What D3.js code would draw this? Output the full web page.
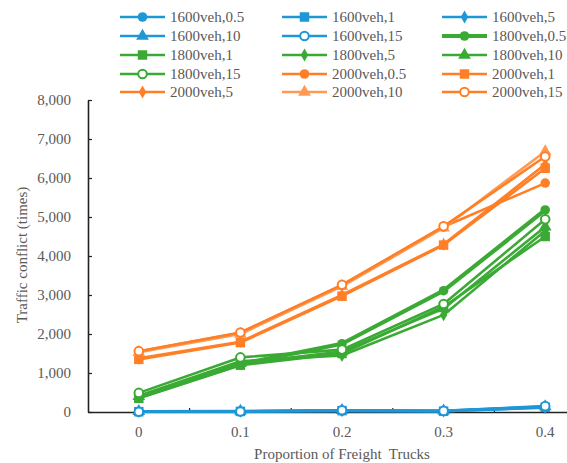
<!DOCTYPE html>
<html><head><meta charset="utf-8">
<script src="https://cdn.jsdelivr.net/npm/d3@7/dist/d3.min.js"></script>
<style>body{margin:0;background:#fff}svg{display:block}svg text{font-family:"Liberation Serif","Times New Roman","DejaVu Serif",serif;}</style>
</head><body><svg id="c" width="567" height="463"></svg>
<script>
const categories = ["0", "0.1", "0.2", "0.3", "0.4"];
const yTicks = [0, 1000, 2000, 3000, 4000, 5000, 6000, 7000, 8000];
const seriesNames = ["1600veh,0.5","1600veh,1","1600veh,5","1600veh,10","1600veh,15",
  "1800veh,0.5","1800veh,1","1800veh,5","1800veh,10","1800veh,15",
  "2000veh,0.5","2000veh,1","2000veh,5","2000veh,10","2000veh,15"];
const v1600_05 = [10, 20, 30, 25, 130];
const v1600_1  = [8, 15, 35, 20, 120];
const v1600_5  = [12, 18, 28, 22, 110];
const v1600_10 = [15, 25, 40, 30, 140];
const v1600_15 = [5, 12, 45, 28, 150];
const v1800_05 = [380, 1230, 1750, 3110, 5180];
const v1800_1  = [350, 1200, 1500, 2700, 4500];
const v1800_5  = [420, 1300, 1450, 2490, 4650];
const v1800_10 = [400, 1250, 1550, 2650, 4750];
const v1800_15 = [490, 1400, 1600, 2770, 4940];
const v2000_05 = [1550, 2030, 3250, 4750, 5870];
const v2000_1  = [1350, 1780, 2970, 4280, 6250];
const v2000_5  = [1380, 1800, 3000, 4300, 6350];
const v2000_10 = [1530, 2000, 3220, 4720, 6680];
const v2000_15 = [1560, 2040, 3260, 4760, 6550];
const seriesValues = [v1600_05,v1600_1,v1600_5,v1600_10,v1600_15,
  v1800_05,v1800_1,v1800_5,v1800_10,v1800_15,
  v2000_05,v2000_1,v2000_5,v2000_10,v2000_15];

(function(){
const blue = "#1f96d6", green = "#3aaa35", orange = "#ff7f27", lightOrange = "#ff9a55";
const markerKinds = ["circle","square","diamond","triangle","open"];
const series = seriesNames.map((n,i) => {
  const g = Math.floor(i/5);
  let color = [blue, green, orange][g];
  if (i === 13) color = lightOrange;
  return {name:n, values:seriesValues[i], color, marker: markerKinds[i%5], width: i===5 ? 4.2 : 2.6};
});

const svg = d3.select("#c");
const mLeft = 88, mBottom = 412, mTop = 100;
const x = d3.scaleBand().domain(categories).range([mLeft, mLeft + 5*101.6]);
const y = d3.scaleLinear().domain([0, 8000]).range([mBottom, mTop]);
const textColor = "#595959";
const fontFam = "'Liberation Serif','Times New Roman','DejaVu Serif',serif";

const yAxis = svg.append("g").attr("transform", `translate(${mLeft},0)`)
  .call(d3.axisLeft(y).tickValues(yTicks).tickFormat(d3.format(",")).tickSizeInner(-4).tickSizeOuter(0).tickPadding(17));
yAxis.select(".domain").attr("stroke", "#222").attr("stroke-width", 1.6);
yAxis.selectAll(".tick line").attr("stroke", "#222").attr("stroke-width", 1.2);
yAxis.selectAll("text").attr("fill", textColor).attr("font-family", fontFam).attr("font-size", 15);

const xAxis = svg.append("g").attr("transform", `translate(0,${mBottom})`)
  .call(d3.axisBottom(x).tickSize(0).tickPadding(14));
xAxis.select(".domain").attr("stroke", "#222").attr("stroke-width", 1.6);
xAxis.selectAll("text").attr("fill", textColor).attr("font-family", fontFam).attr("font-size", 15);
const bounds = categories.slice(1).map(c => x(c));
svg.append("g").selectAll("line").data(bounds).join("line")
  .attr("x1", d => d).attr("x2", d => d).attr("y1", mBottom).attr("y2", mBottom - 4)
  .attr("stroke", "#222").attr("stroke-width", 1.2);

svg.append("text").attr("x", 342).attr("y", 459).attr("text-anchor", "middle")
  .attr("fill", textColor).attr("font-family", fontFam).attr("font-size", 15)
  .style("white-space", "pre")
  .text("Proportion of Freight  Trucks");
svg.append("text").attr("transform", `translate(27,255) rotate(-90)`).attr("text-anchor", "middle")
  .attr("fill", textColor).attr("font-family", fontFam).attr("font-size", 15)
  .text("Traffic conflict (times)");

function drawMarker(g, kind, cx, cy, color) {
  if (kind === "circle") {
    g.append("circle").attr("cx", cx).attr("cy", cy).attr("r", 4.8).attr("fill", color);
  } else if (kind === "open") {
    g.append("circle").attr("cx", cx).attr("cy", cy).attr("r", 4.3).attr("fill", "#fff").attr("stroke", color).attr("stroke-width", 2);
  } else {
    const t = {square: d3.symbolSquare, diamond: d3.symbolDiamond, triangle: d3.symbolTriangle}[kind];
    const s = {square: 90, diamond: 48, triangle: 70}[kind];
    g.append("path").attr("d", d3.symbol().type(t).size(s)()).attr("transform", `translate(${cx},${cy})`).attr("fill", color);
  }
}

const cx = d => x(d) + x.bandwidth()/2;
const line = d3.line().x((d,i) => cx(categories[i])).y(d => y(d));
const plot = svg.append("g");
series.forEach(s => {
  const g = plot.append("g");
  g.append("path").datum(s.values).attr("d", line).attr("fill", "none")
    .attr("stroke", s.color).attr("stroke-width", s.width).attr("stroke-linejoin", "round");
  s.values.forEach((v,i) => drawMarker(g, s.marker, cx(categories[i]), y(v), s.color));
});

const colX = [120, 282, 442];
const rowY = [17, 36, 55, 74, 92];
const leg = svg.append("g");
series.forEach((s,i) => {
  const c = i % 3, r = Math.floor(i/3);
  const lx = colX[c], ly = rowY[r];
  const g = leg.append("g");
  g.append("line").attr("x1", lx).attr("x2", lx + 45).attr("y1", ly).attr("y2", ly)
    .attr("stroke", s.color).attr("stroke-width", s.width);
  drawMarker(g, s.marker, lx + 22.5, ly, s.color);
  g.append("text").attr("x", lx + 50).attr("y", ly).attr("dy", "0.35em")
    .attr("fill", textColor).attr("font-family", fontFam).attr("font-size", 15).text(s.name);
});
})();
</script></body></html>
